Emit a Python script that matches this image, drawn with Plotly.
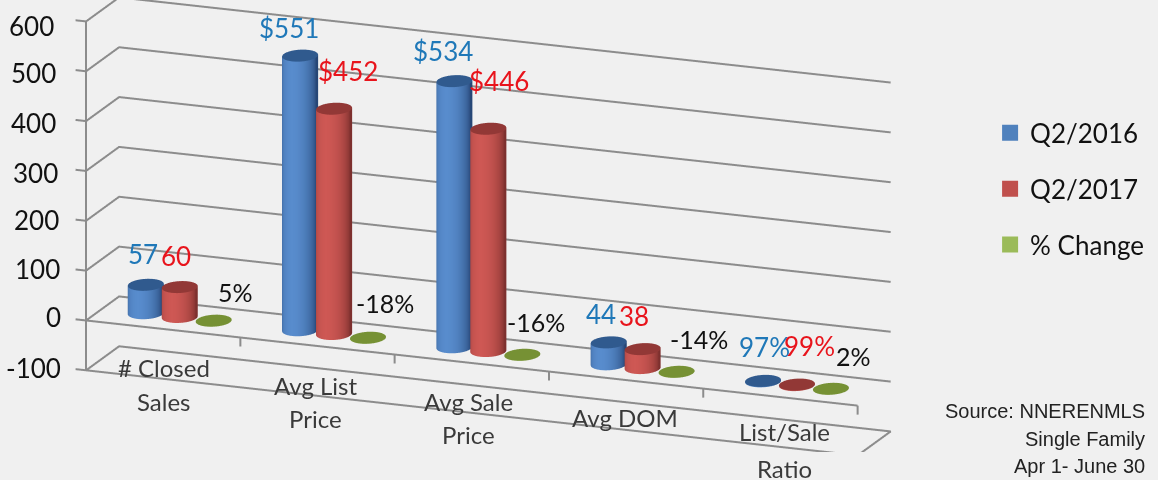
import numpy as np
import plotly.graph_objects as go

categories = [["# Closed", "Sales"], ["Avg List", "Price"], ["Avg Sale", "Price"], ["Avg DOM"], ["List/Sale", "Ratio"]]
q2_2016 = [57, 551, 534, 44, 0.97]
q2_2017 = [60, 452, 446, 38, 0.99]
pct_change = [0.05, -0.18, -0.16, -0.14, 0.02]
labels_2016 = ["57", "$551", "$534", "44", "97%"]
labels_2017 = ["60", "$452", "$446", "38", "99%"]
labels_change = ["5%", "-18%", "-16%", "-14%", "2%"]
z_ticks = [-100, 0, 100, 200, 300, 400, 500, 600]

BG = "#F0F0F0"; LINE = "#8C8C8C"
BAR_W = 0.105
BAR_D = 0.24
DIST = 4.0
SCALE = 1.6594
XPAD = 0.08
XPAD_R = 0.03
YPAD = 0.03
ZPAD = 6
EYE_DIR = np.array([0.348, -0.893, 0.283])
eye = EYE_DIR*DIST

def shade(center, edge, t):
    return "rgb(%d,%d,%d)" % tuple(int(e+(c-e)*t) for c, e in zip(center, edge))
def cylinder(xc, yc, z0, z1, center, edge, cap, n=40):
    th = np.linspace(0, 2*np.pi, n, endpoint=False)
    xs = xc+BAR_W*np.cos(th); ys = yc+BAR_D*np.sin(th)
    X = list(xs)+list(xs)+list(xs)+[xc]
    Y = list(ys)+list(ys)+list(ys)+[yc]
    Z = [z0]*n+[z1]*n+[z1]*n+[z1]
    side = [shade(center, edge, max(0.0, -np.sin(t))**0.8) for t in th]
    colors = side+side+[cap]*(n+1)
    I, J, K = [], [], []
    for a in range(n):
        b = (a+1) % n
        I += [a, b, 2*n+a]; J += [b, n+b, 2*n+b]; K += [n+a, n+a, 3*n]
    return go.Mesh3d(x=X, y=Y, z=Z, i=I, j=J, k=K, vertexcolor=colors, flatshading=False,
                     lighting=dict(ambient=1, diffuse=0, specular=0, roughness=1, fresnel=0),
                     hoverinfo="skip", showlegend=False, showscale=False)

series = [
    ("Q2/2016", q2_2016, 0.28, (88,140,205), (38,70,118), "rgb(48,90,142)", "#4F81BD"),
    ("Q2/2017", q2_2017, 0.50, (206,88,84), (125,48,46), "rgb(146,56,54)", "#C0504D"),
    ("% Change", pct_change, 0.72, (155,187,89), (110,135,50), "rgb(118,145,52)", "#9BBB59"),
]
fig = go.Figure()
for name, vals, off, c_, e_, cap, leg in series:
    for i, v in enumerate(vals):
        fig.add_trace(cylinder(i+off, 0.5, 0, v, c_, e_, cap))

def edge(xs, ys, zs):
    fig.add_trace(go.Scatter3d(x=xs, y=ys, z=zs, mode="lines", line=dict(color=LINE, width=4),
                               hoverinfo="skip", showlegend=False))
n = len(categories); zlo, zhi = z_ticks[0], z_ticks[-1]
edge([0,0],[0,0],[zlo,zhi])
edge([0,n,n,0,0],[0,0,1,1,0],[zlo]*5)
edge([0,n],[0,0],[0,0])
for i in range(1, n+1):
    edge([i,i],[0,0],[0,-18])
for z in z_ticks:
    edge([0,0,n],[0,1,1],[z,z,z])
    edge([-XPAD*0.85,0],[0,0],[z,z])
for name, vals, off, c_, e_, cap, leg in series:
    fig.add_trace(go.Scatter3d(x=[None], y=[None], z=[None], mode="markers", name=name, legendgroup=name,
                               marker=dict(symbol="square", size=17, color=leg)))

blue_off = [(-3,31),(-11,28),(-11,30),(-8,28),(1,34)]
red_off = [(-4,31),(14,38),(11,48),(-9,33),(13,39)]
green_off = [(22,29),(17,35),(14,33),(22,33),(23,33)]
tick_off = [(-23,2),(-23,3),(-24,2),(-25,1),(-26,-2),(-28,-2),(-28,-2),(-30,-5)]
ann = []
def scene_text(x, y, z, text, color, size, dx=0, dy=0, anchor="center"):
    ann.append(dict(x=x, y=y, z=z, text=text, showarrow=False, xanchor=anchor, yanchor="middle",
                    xshift=dx, yshift=dy, font=dict(family="Lato", size=size, color=color)))
for i in range(n):
    scene_text(i+0.28, 0.5, q2_2016[i], labels_2016[i], "#1F78B8", 26, *blue_off[i])
    scene_text(i+0.50, 0.5, q2_2017[i], labels_2017[i], "#E8141C", 26, *red_off[i])
    scene_text(i+0.72, 0.5, pct_change[i], labels_change[i], "#111111", 25, *green_off[i])
for z, (dx, dy) in zip(z_ticks, tick_off):
    scene_text(0, 0, z, str(z), "#111111", 26, dx, dy, "right")
cat_dx = [1, -2, -3, -1, 4]
cat_shift = [[11, -23], [10, -23], [11, -22], [12], [15, -22]]
for i, lines in enumerate(categories):
    for line, s in zip(lines, cat_shift[i]):
        scene_text(i+0.5, 0, zlo, line, "#3A3A3A", 24, cat_dx[i], s)

source_font = dict(family="Liberation Sans", size=20, color="#222222")
fig.update_layout(
    width=1158, height=480, margin=dict(l=0, r=0, t=0, b=0), paper_bgcolor=BG,
    font=dict(family="Lato", color="#111111"),
    showlegend=True,
    legend=dict(x=0.855, y=0.772, xanchor="left", yanchor="top", bgcolor="rgba(0,0,0,0)",
                font=dict(size=26), tracegroupgap=19, itemsizing="trace"),
    scene=dict(
        domain=dict(x=[0, 969/1158], y=[28/480, 1]),
        bgcolor=BG,
        aspectmode="manual",
        aspectratio=dict(x=2.208*SCALE*(n+XPAD+XPAD_R)/n, y=0.2427*SCALE*(1+2*YPAD),
                         z=SCALE*0.97*(zhi-zlo+2*ZPAD)/(zhi-zlo)),
        camera=dict(eye=dict(x=eye[0], y=eye[1], z=eye[2]), center=dict(x=0, y=0, z=0),
                    up=dict(x=0, y=0, z=1), projection=dict(type="orthographic")),
        xaxis=dict(range=[-XPAD, n+XPAD_R], showgrid=False, zeroline=False, showline=False, showticklabels=False,
                   ticks="", title="", showbackground=False, showspikes=False),
        yaxis=dict(range=[-YPAD, 1+YPAD], showgrid=False, zeroline=False, showline=False, showticklabels=False,
                   ticks="", title="", showbackground=False, showspikes=False),
        zaxis=dict(range=[zlo-ZPAD, zhi+ZPAD], tickvals=z_ticks, showgrid=False, zeroline=False,
                   showline=False, showticklabels=False, ticks="", title="", showbackground=False, showspikes=False),
        annotations=ann,
    ),
    annotations=[
        dict(xref="paper", yref="paper", x=1147/1158, y=1-411/480, text="Source: NNERENMLS", showarrow=False, xanchor="right", yanchor="middle", font=source_font),
        dict(xref="paper", yref="paper", x=1147/1158, y=1-439/480, text="Single Family", showarrow=False, xanchor="right", yanchor="middle", font=source_font),
        dict(xref="paper", yref="paper", x=1147/1158, y=1-466/480, text="Apr 1- June 30", showarrow=False, xanchor="right", yanchor="middle", font=source_font),
    ],
)
fig.write_html("out.html", config=dict(displayModeBar=False),
               post_script="document.body.style.margin='0';document.body.style.background='#F0F0F0';")
